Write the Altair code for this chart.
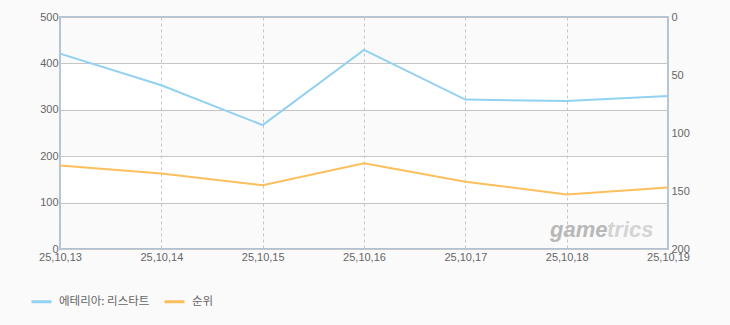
import altair as alt
import pandas as pd

dates = ["25,10,13", "25,10,14", "25,10,15", "25,10,16", "25,10,17", "25,10,18", "25,10,19"]
series_names = ["에테리아: 리스타트", "순위"]
usage = [421, 353, 267, 429, 322, 319, 330]
rank = [128, 135, 145, 126, 142, 153, 147]
left_ticks = [0, 100, 200, 300, 400, 500]
right_ticks = [0, 50, 100, 150, 200]
band_lo = [0, 200, 400]
band_hi = [100, 300, 500]
logo_parts = ["game", "trics"]

df_usage = pd.DataFrame({"date": dates, "value": usage, "series": series_names[0]})
df_rank = pd.DataFrame({"date": dates, "value": rank, "series": series_names[1]})
df_band = pd.DataFrame({"lo": band_lo, "hi": band_hi})

color_scale = alt.Scale(domain=series_names, range=["#92d1f1", "#fcbf5c"])
xenc = alt.X("date:N", sort=dates, scale=alt.Scale(padding=0),
             axis=alt.Axis(title=None, labelAngle=0, ticks=False, domain=False,
                           grid=True, gridDash=[3, 3], gridColor="#c8c8c8",
                           labelColor="#666666", labelFontSize=11,
                           labelFont="Liberation Sans", labelPadding=2))

bands = alt.Chart(df_band).mark_rect(color="#000000", opacity=0.018).encode(
    y=alt.Y("lo:Q", scale=alt.Scale(domain=[0, 500]), axis=None),
    y2="hi:Q",
)

blue = alt.Chart(df_usage).mark_line(strokeWidth=2).encode(
    x=xenc,
    y=alt.Y("value:Q", scale=alt.Scale(domain=[0, 500]),
            axis=alt.Axis(title=None, orient="left", values=left_ticks, ticks=False,
                          domain=False, grid=True, gridColor="#c8c8c8",
                          labelColor="#666666", labelFontSize=11,
                          labelFont="Liberation Sans", labelPadding=2)),
    color=alt.Color("series:N", scale=color_scale, sort=series_names,
                    legend=alt.Legend(title=None, orient="none", legendX=-30, legendY=273,
                                      direction="horizontal", symbolType="stroke",
                                      symbolSize=400, symbolStrokeWidth=3,
                                      labelFont="Noto Sans CJK KR", labelFontSize=11.5,
                                      labelColor="#666666", labelOffset=6,
                                      columnPadding=8)),
)

orange = alt.Chart(df_rank).mark_line(strokeWidth=2).encode(
    x=xenc,
    y=alt.Y("value:Q", scale=alt.Scale(domain=[0, 200], reverse=True),
            axis=alt.Axis(title=None, orient="right", values=right_ticks, ticks=False,
                          domain=False, grid=False,
                          labelColor="#666666", labelFontSize=11,
                          labelFont="Liberation Sans", labelPadding=3)),
    color=alt.Color("series:N", scale=color_scale, sort=series_names),
)

logo_style = dict(font="Liberation Sans", fontSize=22, fontStyle="italic",
                  fontWeight="bold", align="left", baseline="alphabetic")
wm1 = alt.Chart(pd.DataFrame({"t": [logo_parts[0]]})).mark_text(
    color="#b8b8b8", **logo_style
).encode(text="t:N", x=alt.value(490), y=alt.value(220))
wm2 = alt.Chart(pd.DataFrame({"t": [logo_parts[1]]})).mark_text(
    color="#d4d4d4", **logo_style
).encode(text="t:N", x=alt.value(547), y=alt.value(220))

chart = alt.layer(bands, blue, orange, wm1, wm2).resolve_scale(
    y="independent"
).properties(
    width=608, height=232,
    autosize=alt.AutoSizeParams(type="none"),
    padding={"left": 60, "top": 17, "right": 62, "bottom": 76},
    background="#fafafa",
).configure_view(
    fill="#ffffff", stroke="#b3c5d9", strokeWidth=2,
)

chart.save("out.html", embed_options={"renderer": "svg", "actions": False})
